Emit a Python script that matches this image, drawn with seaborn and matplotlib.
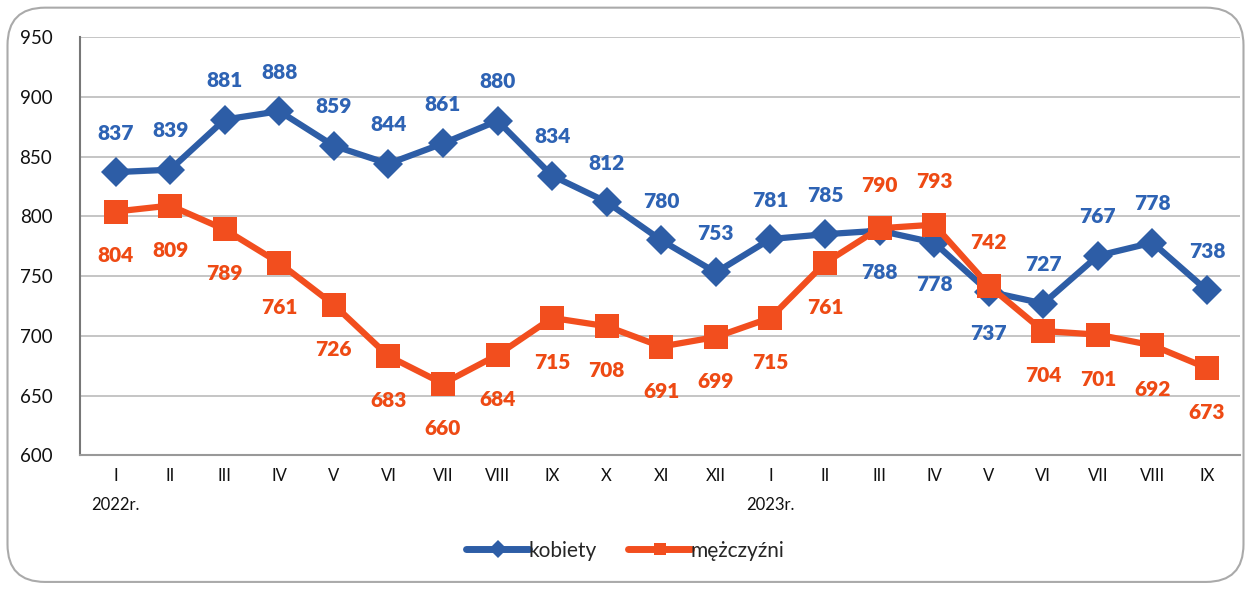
import numpy as np
import pandas as pd
import seaborn as sns
import matplotlib
matplotlib.use("Agg")
import matplotlib.pyplot as plt
from matplotlib.patches import FancyBboxPatch

months = ["I", "II", "III", "IV", "V", "VI", "VII", "VIII", "IX", "X", "XI", "XII",
          "I", "II", "III", "IV", "V", "VI", "VII", "VIII", "IX"]
kobiety = [837, 839, 881, 888, 859, 844, 861, 880, 834, 812, 780, 753,
           781, 785, 788, 778, 737, 727, 767, 778, 738]
mezczyzni = [804, 809, 789, 761, 726, 683, 660, 684, 715, 708, 691, 699,
             715, 761, 790, 793, 742, 704, 701, 692, 673]
year_labels = {0: "2022r.", 12: "2023r."}
yticks = [600, 650, 700, 750, 800, 850, 900, 950]

sns.set_theme(style="white")
plt.rcParams['font.family'] = ['Lato', 'DejaVu Sans']

BLUE = "#2D5DA6"
BLUE_T = "#2E63B4"
ORANGE = "#F24E1E"
ORANGE_T = "#EE4A14"

n = len(months)
df = pd.DataFrame({
    "idx": list(range(n)) * 2,
    "value": kobiety + mezczyzni,
    "series": ["kobiety"] * n + ["mężczyźni"] * n,
})

fig = plt.figure(figsize=(12.51, 5.89), dpi=100)
ax = fig.add_axes([0.064, 0.227, 0.927, 0.710])

sns.lineplot(data=df, x="idx", y="value", hue="series", style="series",
             markers={"kobiety": "D", "mężczyźni": "s"}, dashes=False,
             palette={"kobiety": BLUE, "mężczyźni": ORANGE},
             linewidth=4.5, markersize=15, markeredgewidth=0, ax=ax, legend=True)
for ln in ax.lines:
    if ln.get_marker() == "s":
        ln.set_markersize(17)

ax.set_ylim(600, 950)
ax.set_xlim(-0.65, n - 0.4)
ax.set_yticks(yticks)
ax.set_yticklabels([str(t) for t in yticks], fontsize=13.5, color="#111111")
ax.set_xticks(range(n))
ax.set_xticklabels(months, fontsize=12, color="#111111")
ax.tick_params(axis="x", length=0, pad=9)
ax.tick_params(axis="y", length=0, pad=20)
ax.set_xlabel("")
ax.set_ylabel("")
ax.yaxis.grid(True, color="#BBBBBB", linewidth=1.2)
ax.set_axisbelow(True)
for s in ["top", "right"]:
    ax.spines[s].set_visible(False)
ax.spines["left"].set_color("#777777")
ax.spines["left"].set_linewidth(1.5)
ax.spines["bottom"].set_color("#999999")
ax.spines["bottom"].set_linewidth(1.5)

for i, lab in year_labels.items():
    ax.annotate(lab, xy=(i, 600), xycoords="data", xytext=(0, -36),
                textcoords="offset points", ha="center", va="center",
                fontsize=12, color="#111111")

blue_below = {14, 15, 16}
orange_above = {14, 15, 16}
for i in range(n):
    off = -30 if i in blue_below else 28
    ax.annotate(str(kobiety[i]), xy=(i, kobiety[i]), xytext=(0, off),
                textcoords="offset points", ha="center", va="center",
                fontsize=15, fontweight="heavy", color=BLUE_T)
    off = 31 if i in orange_above else -32
    ax.annotate(str(mezczyzni[i]), xy=(i, mezczyzni[i]), xytext=(0, off),
                textcoords="offset points", ha="center", va="center",
                fontsize=15, fontweight="heavy", color=ORANGE_T)

leg = ax.legend(loc="center", bbox_to_anchor=(0.5, 0.065), bbox_transform=fig.transFigure,
                ncol=2, frameon=False, fontsize=15, handlelength=3.0,
                handletextpad=0.0, columnspacing=1.5)
for h in leg.legend_handles:
    h.set_linewidth(5)
    h.set_markersize(9)

frame = FancyBboxPatch((0.006, 0.012), 0.988, 0.975, boxstyle="round,pad=0,rounding_size=0.03",
                       transform=fig.transFigure, fill=False, edgecolor="#AAAAAA",
                       linewidth=1.5, mutation_aspect=1251 / 589)
fig.patches.append(frame)

fig.savefig("out.png", dpi=100)
